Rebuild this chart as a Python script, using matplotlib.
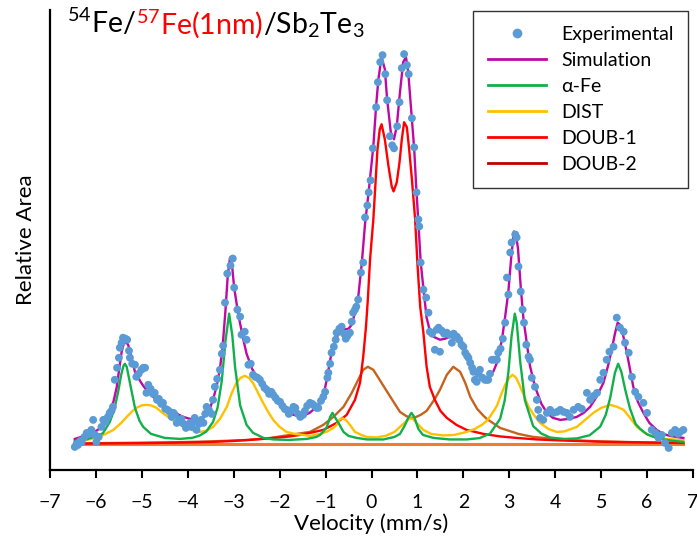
import numpy as np
import matplotlib
matplotlib.use("Agg")
import matplotlib.pyplot as plt
from matplotlib.lines import Line2D
from matplotlib.offsetbox import TextArea, HPacker, AnchoredOffsetbox

plt.rcParams['font.family'] = ['Lato', 'DejaVu Sans']
plt.rcParams['mathtext.fontset'] = 'custom'
plt.rcParams['mathtext.rm'] = 'Lato'

# ---- data (velocity mm/s, relative area) ----
exp_pts = [
    (-6.46, -0.03), (-6.42, 0.00), (-6.39, -0.01), (-6.34, 0.03), (-6.31, 0.02),
    (-6.25, 0.07), (-6.20, 0.11), (-6.15, 0.10), (-6.10, 0.14), (-6.06, 0.24),
    (-6.02, 0.09), (-5.99, 0.02), (-5.94, 0.07), (-5.88, 0.17), (-5.84, 0.24),
    (-5.79, 0.22), (-5.74, 0.27), (-5.70, 0.31), (-5.66, 0.33), (-5.63, 0.37),
    (-5.59, 0.64), (-5.54, 0.76), (-5.50, 0.86), (-5.48, 0.96), (-5.44, 1.01),
    (-5.41, 1.06), (-5.36, 1.05), (-5.32, 1.04), (-5.28, 0.93), (-5.26, 0.86),
    (-5.21, 0.80), (-5.15, 0.79), (-5.12, 0.67), (-5.07, 0.70), (-5.01, 0.74),
    (-4.97, 0.76), (-4.93, 0.76), (-4.90, 0.51), (-4.86, 0.59), (-4.81, 0.55),
    (-4.76, 0.50), (-4.72, 0.51), (-4.67, 0.44), (-4.63, 0.45), (-4.58, 0.40),
    (-4.54, 0.41), (-4.49, 0.35), (-4.44, 0.34), (-4.39, 0.32), (-4.35, 0.27),
    (-4.31, 0.31), (-4.28, 0.29), (-4.24, 0.21), (-4.19, 0.24), (-4.14, 0.25),
    (-4.09, 0.20), (-4.04, 0.16), (-4.00, 0.19), (-3.95, 0.21), (-3.92, 0.17),
    (-3.88, 0.22), (-3.85, 0.26), (-3.81, 0.14), (-3.76, 0.20), (-3.71, 0.24),
    (-3.66, 0.21), (-3.62, 0.30), (-3.59, 0.37), (-3.54, 0.34), (-3.48, 0.30),
    (-3.45, 0.44), (-3.41, 0.57), (-3.36, 0.65), (-3.30, 0.74), (-3.26, 0.90),
    (-3.23, 0.98), (-3.19, 1.41), (-3.14, 1.70), (-3.07, 1.78), (-3.02, 1.85),
    (-2.99, 1.56), (-2.92, 1.34), (-2.86, 1.27), (-2.83, 1.09), (-2.76, 1.12),
    (-2.72, 1.04), (-2.68, 0.79), (-2.63, 0.80), (-2.58, 0.69), (-2.53, 0.67),
    (-2.48, 0.66), (-2.43, 0.64), (-2.38, 0.60), (-2.33, 0.56), (-2.28, 0.54),
    (-2.23, 0.50), (-2.18, 0.52), (-2.14, 0.49), (-2.09, 0.46), (-2.04, 0.43),
    (-1.99, 0.42), (-1.94, 0.38), (-1.89, 0.35), (-1.85, 0.34), (-1.80, 0.30),
    (-1.75, 0.33), (-1.70, 0.37), (-1.66, 0.36), (-1.60, 0.30), (-1.55, 0.27),
    (-1.49, 0.29), (-1.45, 0.33), (-1.40, 0.38), (-1.34, 0.41), (-1.29, 0.40),
    (-1.24, 0.38), (-1.20, 0.36), (-1.16, 0.36), (-1.10, 0.43), (-1.05, 0.47),
    (-1.01, 0.52), (-0.96, 0.66), (-0.94, 0.71), (-0.90, 0.80), (-0.87, 0.91),
    (-0.82, 0.97), (-0.78, 1.04), (-0.76, 1.11), (-0.70, 1.15), (-0.65, 1.17),
    (-0.60, 1.10), (-0.56, 1.05), (-0.52, 1.08), (-0.47, 1.11), (-0.43, 1.22),
    (-0.40, 1.31), (-0.36, 1.34), (-0.33, 1.37), (-0.29, 1.44), (-0.23, 1.71),
    (-0.18, 1.81), (-0.14, 2.26), (-0.09, 2.38), (-0.06, 2.51), (-0.02, 2.63),
    (0.03, 2.95), (0.10, 3.36), (0.14, 3.61), (0.19, 3.81), (0.24, 3.88),
    (0.30, 3.69), (0.34, 3.43), (0.40, 3.07), (0.45, 2.98), (0.49, 2.95),
    (0.56, 3.17), (0.61, 3.41), (0.66, 3.75), (0.71, 3.89), (0.77, 3.78),
    (0.81, 3.69), (0.88, 3.25), (0.93, 2.96), (0.98, 2.51), (1.02, 2.24),
    (1.04, 2.17), (1.07, 1.81), (1.13, 1.54), (1.19, 1.46), (1.24, 1.31),
    (1.27, 1.12), (1.32, 1.10), (1.38, 0.94), (1.42, 1.14), (1.46, 1.16),
    (1.49, 0.92), (1.53, 1.13), (1.58, 1.10), (1.64, 1.11), (1.69, 1.09),
    (1.75, 1.01), (1.79, 1.10), (1.82, 1.07), (1.86, 1.07), (1.91, 1.04),
    (1.96, 0.99), (2.00, 0.97), (2.04, 0.91), (2.08, 0.88), (2.11, 0.86),
    (2.15, 0.81), (2.19, 0.76), (2.22, 0.72), (2.25, 0.64), (2.29, 0.62),
    (2.33, 0.70), (2.36, 0.74), (2.42, 0.66), (2.47, 0.64), (2.51, 0.64),
    (2.54, 0.64), (2.58, 0.70), (2.62, 0.84), (2.67, 0.84), (2.73, 0.84),
    (2.76, 0.91), (2.81, 0.95), (2.86, 1.05), (2.91, 1.21), (2.95, 1.66),
    (2.98, 1.49), (3.02, 1.91), (3.05, 2.01), (3.13, 2.09), (3.16, 2.06),
    (3.20, 1.77), (3.25, 1.52), (3.29, 1.34), (3.32, 1.21), (3.37, 0.99),
    (3.42, 0.87), (3.45, 0.84), (3.49, 0.66), (3.56, 0.57), (3.60, 0.44),
    (3.63, 0.34), (3.67, 0.26), (3.74, 0.24), (3.82, 0.31), (3.89, 0.34),
    (3.96, 0.31), (4.04, 0.32), (4.11, 0.34), (4.18, 0.32), (4.25, 0.31),
    (4.32, 0.27), (4.40, 0.34), (4.50, 0.37), (4.58, 0.35), (4.69, 0.51),
    (4.76, 0.44), (4.84, 0.48), (4.91, 0.51), (4.98, 0.64), (5.05, 0.71),
    (5.12, 0.84), (5.18, 0.92), (5.27, 0.97), (5.34, 1.26), (5.41, 1.16),
    (5.49, 1.12), (5.52, 1.01), (5.60, 0.91), (5.67, 0.67), (5.74, 0.52),
    (5.81, 0.47), (5.92, 0.41), (6.00, 0.31), (6.10, 0.14), (6.18, 0.11),
    (6.25, 0.06), (6.32, 0.09), (6.39, 0.01), (6.47, -0.04), (6.54, 0.11),
    (6.61, 0.14), (6.67, 0.10), (6.72, 0.12), (6.79, 0.14),
]

sim_pts = [
    (-6.46, 0.05), (-6.25, 0.08), (-6.06, 0.11), (-5.90, 0.16), (-5.77, 0.24),
    (-5.62, 0.42), (-5.55, 0.56), (-5.49, 0.76), (-5.44, 0.92), (-5.40, 0.99),
    (-5.35, 1.02), (-5.30, 0.99), (-5.26, 0.93), (-5.20, 0.81), (-5.15, 0.72),
    (-5.04, 0.63), (-4.97, 0.58), (-4.85, 0.51), (-4.68, 0.44), (-4.50, 0.38),
    (-4.32, 0.32), (-4.10, 0.27), (-3.95, 0.25), (-3.81, 0.23), (-3.70, 0.25),
    (-3.60, 0.29), (-3.52, 0.35), (-3.44, 0.46), (-3.37, 0.58), (-3.30, 0.75),
    (-3.24, 0.98), (-3.18, 1.33), (-3.13, 1.68), (-3.08, 1.86), (-3.03, 1.75),
    (-2.99, 1.56), (-2.92, 1.35), (-2.86, 1.20), (-2.78, 1.02), (-2.72, 0.90),
    (-2.60, 0.75), (-2.50, 0.67), (-2.30, 0.56), (-2.14, 0.47), (-1.95, 0.37),
    (-1.78, 0.30), (-1.60, 0.28), (-1.49, 0.28), (-1.35, 0.31), (-1.19, 0.37),
    (-1.05, 0.47), (-0.98, 0.63), (-0.87, 0.91), (-0.76, 1.07), (-0.61, 1.14),
    (-0.50, 1.15), (-0.43, 1.19), (-0.36, 1.31), (-0.29, 1.46), (-0.21, 1.81),
    (-0.14, 2.20), (-0.07, 2.48), (-0.03, 2.66), (0.04, 2.97), (0.10, 3.37),
    (0.15, 3.64), (0.22, 3.86), (0.29, 3.74), (0.34, 3.44), (0.42, 3.11),
    (0.49, 3.04), (0.55, 3.17), (0.62, 3.51), (0.69, 3.81), (0.75, 3.86),
    (0.80, 3.71), (0.88, 3.24), (0.93, 2.94), (0.98, 2.51), (1.02, 2.22),
    (1.07, 1.82), (1.14, 1.51), (1.20, 1.26), (1.27, 1.13), (1.35, 1.07),
    (1.49, 1.04), (1.60, 1.05), (1.71, 1.07), (1.82, 1.05), (1.93, 1.01),
    (2.07, 0.91), (2.22, 0.77), (2.33, 0.70), (2.44, 0.66), (2.51, 0.65),
    (2.58, 0.67), (2.66, 0.73), (2.73, 0.81), (2.84, 1.04), (2.91, 1.27),
    (2.98, 1.52), (3.04, 1.85), (3.10, 2.12), (3.14, 2.10), (3.19, 1.95),
    (3.25, 1.56), (3.31, 1.24), (3.38, 1.01), (3.45, 0.78), (3.56, 0.57),
    (3.70, 0.40), (3.82, 0.31), (3.95, 0.26), (4.11, 0.24), (4.30, 0.25),
    (4.47, 0.27), (4.62, 0.31), (4.76, 0.37), (4.90, 0.47), (5.05, 0.61),
    (5.15, 0.78), (5.23, 0.94), (5.30, 1.10), (5.36, 1.21), (5.41, 1.19),
    (5.45, 1.14), (5.50, 1.04), (5.56, 0.91), (5.63, 0.74), (5.70, 0.57),
    (5.80, 0.42), (5.92, 0.31), (6.05, 0.21), (6.21, 0.14), (6.35, 0.10),
    (6.50, 0.08), (6.65, 0.07), (6.79, 0.06),
]

fe_pts = [
    (-6.46, 0.03), (-6.20, 0.047), (-5.99, 0.079), (-5.85, 0.106), (-5.70, 0.217),
    (-5.60, 0.345), (-5.52, 0.51), (-5.45, 0.69), (-5.40, 0.78), (-5.37, 0.80),
    (-5.33, 0.77), (-5.26, 0.61), (-5.15, 0.36), (-5.05, 0.23), (-4.97, 0.17),
    (-4.80, 0.10), (-4.50, 0.06), (-4.17, 0.05), (-3.90, 0.061), (-3.74, 0.084),
    (-3.60, 0.123), (-3.45, 0.22), (-3.35, 0.365), (-3.26, 0.63), (-3.18, 1.025),
    (-3.10, 1.30), (-3.03, 1.08), (-2.97, 0.765), (-2.86, 0.385), (-2.72, 0.19),
    (-2.58, 0.111), (-2.35, 0.06), (-2.14, 0.045), (-1.80, 0.04), (-1.41, 0.05),
    (-1.20, 0.07), (-1.12, 0.09), (-0.98, 0.16), (-0.90, 0.27), (-0.85, 0.31),
    (-0.80, 0.27), (-0.72, 0.21), (-0.61, 0.12), (-0.50, 0.08), (-0.32, 0.06),
    (-0.10, 0.045), (0.26, 0.045), (0.50, 0.07), (0.62, 0.10), (0.72, 0.18),
    (0.80, 0.26), (0.87, 0.31), (0.93, 0.27), (1.02, 0.15), (1.12, 0.09),
    (1.35, 0.06), (1.70, 0.045), (2.07, 0.045), (2.35, 0.058), (2.58, 0.103),
    (2.80, 0.25), (2.90, 0.433), (2.98, 0.715), (3.05, 1.077), (3.12, 1.30),
    (3.16, 1.215), (3.24, 0.813), (3.34, 0.436), (3.52, 0.178), (3.70, 0.103),
    (3.89, 0.064), (4.20, 0.05), (4.47, 0.055), (4.75, 0.087), (4.98, 0.173),
    (5.10, 0.29), (5.20, 0.466), (5.30, 0.71), (5.37, 0.80), (5.44, 0.72),
    (5.53, 0.53), (5.63, 0.35), (5.75, 0.20), (5.85, 0.15), (6.00, 0.095),
    (6.21, 0.06), (6.50, 0.035), (6.79, 0.02),
]

dist_pts = [
    (-6.46, 0.02), (-6.20, 0.04), (-5.92, 0.07), (-5.62, 0.14), (-5.45, 0.21),
    (-5.33, 0.27), (-5.20, 0.33), (-5.12, 0.36), (-5.00, 0.385), (-4.90, 0.39),
    (-4.80, 0.385), (-4.68, 0.36), (-4.55, 0.31), (-4.40, 0.26), (-4.32, 0.235),
    (-4.15, 0.19), (-4.03, 0.16), (-3.85, 0.13), (-3.74, 0.12), (-3.60, 0.13),
    (-3.45, 0.17), (-3.30, 0.25), (-3.15, 0.37), (-3.05, 0.50), (-2.94, 0.61),
    (-2.85, 0.66), (-2.76, 0.68), (-2.67, 0.66), (-2.58, 0.61), (-2.47, 0.51),
    (-2.36, 0.41), (-2.25, 0.32), (-2.14, 0.24), (-2.00, 0.17), (-1.85, 0.12),
    (-1.67, 0.10), (-1.49, 0.09), (-1.34, 0.08), (-1.12, 0.10), (-0.98, 0.12),
    (-0.83, 0.16), (-0.76, 0.19), (-0.68, 0.25), (-0.62, 0.255), (-0.55, 0.235),
    (-0.47, 0.19), (-0.36, 0.12), (-0.20, 0.085), (-0.10, 0.07), (0.11, 0.065),
    (0.30, 0.08), (0.50, 0.12), (0.62, 0.17), (0.74, 0.22), (0.82, 0.255),
    (0.90, 0.25), (0.98, 0.21), (1.13, 0.14), (1.30, 0.10), (1.56, 0.085),
    (1.80, 0.09), (2.07, 0.12), (2.25, 0.15), (2.40, 0.19), (2.51, 0.23),
    (2.62, 0.30), (2.73, 0.38), (2.82, 0.49), (2.91, 0.59), (3.00, 0.66),
    (3.07, 0.69), (3.15, 0.66), (3.24, 0.57), (3.33, 0.47), (3.42, 0.37),
    (3.55, 0.28), (3.67, 0.21), (3.85, 0.15), (4.03, 0.12), (4.20, 0.125),
    (4.35, 0.15), (4.47, 0.17), (4.65, 0.24), (4.83, 0.31), (5.00, 0.36),
    (5.20, 0.39), (5.35, 0.37), (5.49, 0.34), (5.63, 0.26), (5.78, 0.17),
    (5.95, 0.11), (6.14, 0.07), (6.40, 0.05), (6.79, 0.04),
]

doub1_pts = [
    (-6.46, 0.003), (-5.00, 0.008), (-4.00, 0.015), (-3.40, 0.022), (-3.00, 0.03),
    (-2.50, 0.045), (-2.00, 0.065), (-1.78, 0.075), (-1.56, 0.09), (-1.34, 0.11),
    (-1.05, 0.14), (-0.76, 0.21), (-0.54, 0.29), (-0.36, 0.44), (-0.25, 0.61),
    (-0.18, 0.87), (-0.12, 1.17), (-0.08, 1.44), (-0.03, 1.85), (0.04, 2.24),
    (0.08, 2.55), (0.13, 2.94), (0.18, 3.14), (0.22, 3.19), (0.29, 3.04),
    (0.37, 2.77), (0.44, 2.57), (0.48, 2.52), (0.55, 2.61), (0.61, 2.81),
    (0.66, 3.04), (0.71, 3.21), (0.77, 3.16), (0.82, 2.94), (0.88, 2.64),
    (0.95, 2.24), (1.00, 1.80), (1.06, 1.37), (1.13, 1.11), (1.20, 0.77),
    (1.27, 0.57), (1.38, 0.44), (1.50, 0.33), (1.64, 0.26), (1.85, 0.19),
    (2.07, 0.14), (2.44, 0.10), (2.80, 0.075), (3.16, 0.06), (3.60, 0.045),
    (4.11, 0.035), (5.00, 0.022), (6.00, 0.014), (6.79, 0.01),
]

doub2_pts = [
    (-6.46, 0.005), (-5.50, 0.01), (-4.50, 0.015), (-3.50, 0.025), (-2.70, 0.04),
    (-2.20, 0.06), (-1.78, 0.09), (-1.34, 0.12), (-1.05, 0.19), (-0.83, 0.27),
    (-0.61, 0.37), (-0.43, 0.51), (-0.29, 0.64), (-0.18, 0.74), (-0.08, 0.77),
    (0.04, 0.74), (0.15, 0.66), (0.30, 0.55), (0.48, 0.42), (0.62, 0.32),
    (0.75, 0.28), (0.84, 0.26), (0.95, 0.265), (1.07, 0.29), (1.20, 0.33),
    (1.38, 0.45), (1.49, 0.54), (1.64, 0.69), (1.78, 0.77), (1.93, 0.72),
    (2.04, 0.61), (2.15, 0.47), (2.30, 0.35), (2.44, 0.28), (2.51, 0.25),
    (2.80, 0.16), (3.20, 0.10), (3.52, 0.07), (4.25, 0.04), (5.00, 0.025),
    (6.00, 0.015), (6.79, 0.01),
]

base_v = [-6.46, 6.79]
base_y = [0.0, 0.0]

exp_v, exp_y = np.array(exp_pts).T
sim_v, sim_y = np.array(sim_pts).T
fe_v, fe_y = np.array(fe_pts).T
dist_v, dist_y = np.array(dist_pts).T
d1_v, d1_y = np.array(doub1_pts).T
d2_v, d2_y = np.array(doub2_pts).T

c_exp = '#5B9BD5'
c_sim = '#BE0AA5'
c_fe = '#12B04A'
c_dist = '#FFC000'
c_d1 = '#FF0000'
c_d2 = '#C5631E'
c_base = '#ED7D31'

fig = plt.figure(figsize=(6.97, 5.40), dpi=100)
ax = fig.add_axes([50/697, 70/540, 643/697, 460/540])

lw = 1.7
ax.plot(base_v, base_y, color=c_base, lw=2.2, zorder=1)
ax.plot(d2_v, d2_y, color=c_d2, lw=lw, zorder=2)
ax.plot(d1_v, d1_y, color=c_d1, lw=lw, zorder=3)
ax.plot(dist_v, dist_y, color=c_dist, lw=lw, zorder=3)
ax.plot(fe_v, fe_y, color=c_fe, lw=lw, zorder=4)
ax.plot(sim_v, sim_y, color=c_sim, lw=lw, zorder=5)
ax.scatter(exp_v, exp_y, s=32, color=c_exp, edgecolors='none', zorder=6)

ax.set_xlim(-7, 7)
ax.set_ylim(-0.26, 4.33)
ax.set_xticks(range(-7, 8))
ax.set_yticks([])
ax.tick_params(axis='x', direction='out', length=6, width=1.5, labelsize=14, pad=11)
for s in ['top', 'right']:
    ax.spines[s].set_visible(False)
for s in ['left', 'bottom']:
    ax.spines[s].set_linewidth(1.6)
ax.set_xlabel('Velocity (mm/s)', fontsize=16, labelpad=2)
ax.set_ylabel('Relative Area', fontsize=16, labelpad=10)

# sample label with coloured middle part
parts = [(r'$\mathregular{^{54}}$Fe/', 'black'),
         (r'$\mathregular{^{57}}$Fe(1nm)', 'red'),
         (r'/Sb$\mathregular{_2}$Te$\mathregular{_3}$', 'black')]
boxes = [TextArea(t, textprops=dict(color=c, fontsize=20.5)) for t, c in parts]
pack = HPacker(children=boxes, align='baseline', pad=0, sep=0)
anch = AnchoredOffsetbox(loc='upper left', child=pack, pad=0, borderpad=0,
                         frameon=False, bbox_to_anchor=(67/697, 1 - 7/540),
                         bbox_transform=fig.transFigure)
ax.add_artist(anch)

handles = [
    Line2D([], [], ls='none', marker='o', ms=7, color=c_exp, mec='none'),
    Line2D([], [], color=c_sim, lw=2),
    Line2D([], [], color=c_fe, lw=2),
    Line2D([], [], color=c_dist, lw=2),
    Line2D([], [], color=c_d1, lw=2),
    Line2D([], [], color='#C00000', lw=2),
]
labels = ['Experimental', 'Simulation', '\u03b1-Fe', 'DIST', 'DOUB-1', 'DOUB-2']
leg = fig.legend(handles, labels, loc='upper right',
                 bbox_to_anchor=(688/697, 1 - 11/540),
                 fontsize=14, frameon=True, fancybox=False, framealpha=1,
                 edgecolor='#333333', handlelength=3.0, handletextpad=0.75,
                 labelspacing=0.47, borderpad=0.75, borderaxespad=0)
leg.get_frame().set_linewidth(1.0)

fig.savefig('out.png', dpi=100)
